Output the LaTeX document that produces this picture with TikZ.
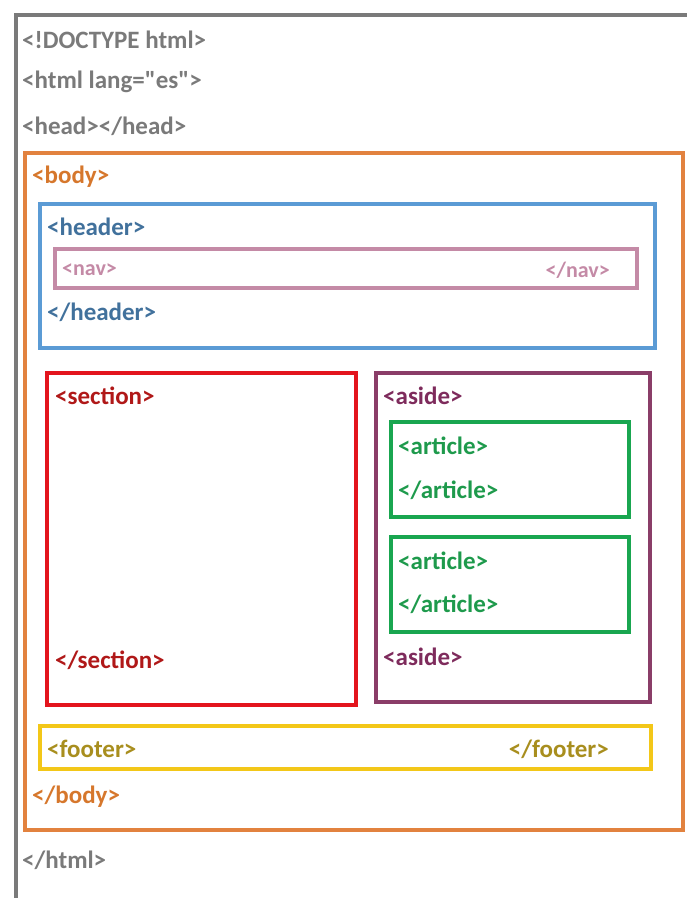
\documentclass[tikz,border=0pt]{standalone}
\usepackage{fontspec}
\setmainfont{Carlito}
\newfontfamily\tagfont{Carlito}
\usepackage{tikz}
\definecolor{htmlgray}{HTML}{7A7A7A}
\definecolor{bodyorange}{HTML}{E2823F}
\definecolor{bodytext}{HTML}{D6772C}
\definecolor{headblue}{HTML}{5B9BD5}
\definecolor{headtext}{HTML}{41719C}
\definecolor{navpink}{HTML}{C48AA6}
\definecolor{secred}{HTML}{E3151D}
\definecolor{sectext}{HTML}{B01818}
\definecolor{asidepurple}{HTML}{8A3D68}
\definecolor{asidetext}{HTML}{7E2B5C}
\definecolor{artgreen}{HTML}{19A650}
\definecolor{arttext}{HTML}{1E9A4C}
\definecolor{footyellow}{HTML}{F3C718}
\definecolor{foottext}{HTML}{A88E1E}
\tikzset{tag/.style={anchor=west, inner sep=0pt, font=\tagfont\fontsize{25}{28}\selectfont\bfseries}}
\tikzset{rtag/.style={tag, anchor=east}}
\tikzset{navtag/.style={font=\tagfont\fontsize{22}{26}\selectfont\bfseries}}
\tikzset{frame/.style={line width=4pt}}

\begin{document}
\begin{tikzpicture}[x=1pt, y=-1pt]
      \useasboundingbox (0,0) rectangle (687,898);
      % html corner
      \draw[htmlgray, line width=4.5pt] (16,898) -- (16,15) -- (687,15);
      \node[tag, htmlgray] (doctype) at (22,40) {<!DOCTYPE html>};
      \node[tag, htmlgray] (html) at (22,82) {<html lang="es">};
      \node[tag, htmlgray] (head) at (22,126) {<head></head>};
      \node[tag, htmlgray] (htmlend) at (22,860) {</html>};

      % body
      \draw[frame, bodyorange] (25,153) rectangle (683,830);
      \node[tag, bodytext] (body) at (32,177) {<body>};
      \node[tag, bodytext] (bodyend) at (32,797) {</body>};

      % header and nav
      \draw[frame, headblue] (40,204) rectangle (655,348);
      \node[tag, headtext] (header) at (47,227) {<header>};
      \node[tag, headtext] (headerend) at (47,312) {</header>};
      \draw[frame, navpink] (55,249) rectangle (637,288);
      \node[tag, navtag, navpink] (nav) at (62,270) {<nav>};
      \node[rtag, navtag, navpink] (navend) at (610,270) {</nav>};

      % section
      \draw[frame, secred] (47,373) rectangle (356,705);
      \node[tag, sectext] (section) at (55,396) {<section>};
      \node[tag, sectext] (sectionend) at (55,660) {</section>};

      % aside with two articles
      \draw[frame, asidepurple] (376,373) rectangle (650,702);
      \node[tag, asidetext] (aside) at (383,396) {<aside>};
      \node[tag, asidetext] (asideend) at (383,657) {<aside>};
      \draw[frame, artgreen] (391,422) rectangle (629,517);
      \node[tag, arttext] (artA) at (398,446) {<article>};
      \node[tag, arttext] (artAend) at (398,490) {</article>};
      \draw[frame, artgreen] (391,537) rectangle (629,632);
      \node[tag, arttext] (artB) at (398,561) {<article>};
      \node[tag, arttext] (artBend) at (398,604) {</article>};

      % footer
      \draw[frame, footyellow] (40,726) rectangle (651,769);
      \node[tag, foottext] (footer) at (47,749) {<footer>};
      \node[rtag, foottext] (footerend) at (609,749) {</footer>};
\end{tikzpicture}
\end{document}
